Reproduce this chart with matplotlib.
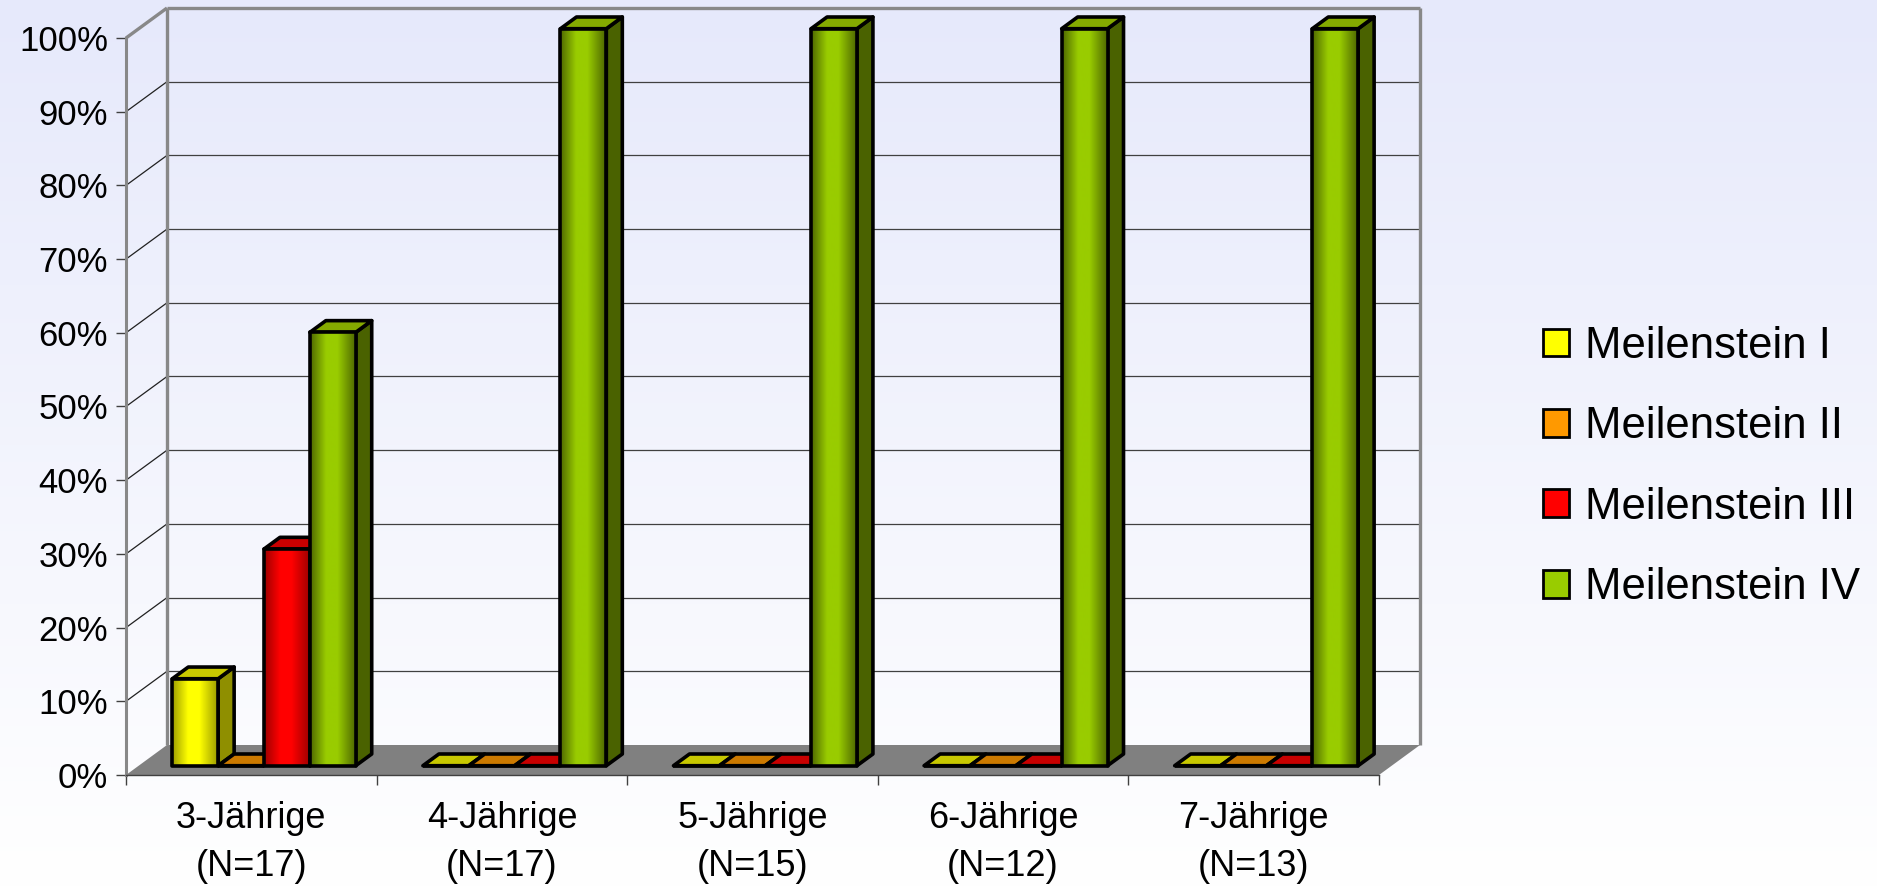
import numpy as np
import matplotlib.pyplot as plt
from matplotlib.patches import Polygon, Patch
from matplotlib.colors import LinearSegmentedColormap

plt.rcParams['font.family'] = ['Liberation Sans', 'DejaVu Sans']

# Anteil je Altersgruppe (%), der den jeweiligen Meilenstein erreicht
groups = ['3-Jährige\n(N=17)', '4-Jährige\n(N=17)', '5-Jährige\n(N=15)',
          '6-Jährige\n(N=12)', '7-Jährige\n(N=13)']
labels = ['Meilenstein I', 'Meilenstein II', 'Meilenstein III', 'Meilenstein IV']
ms_1 = [11.8, 0, 0, 0, 0]
ms_2 = [0, 0, 0, 0, 0]
ms_3 = [29.4, 0, 0, 0, 0]
ms_4 = [58.8, 100, 100, 100, 100]
values = [ms_1, ms_2, ms_3, ms_4]
yticks = list(range(0, 101, 10))

# (hell, dunkel, Seite, Deckel)
colors = [('#ffff00', '#9c9c00', '#8f8f00', '#c8c800'),
          ('#ff9900', '#9c5c00', '#7a4a00', '#cc7a00'),
          ('#ff0000', '#9c0000', '#800000', '#c80000'),
          ('#99cc00', '#4d6600', '#4a6200', '#85aa00')]

W, H = 1877, 889
# Tiefe der Pseudo-3D-Box in Dateneinheiten
DX = 41 / 250.6
DY = 30 / 7.37
T0, T1 = 0.31, 0.70      # Vorder-/Rückseite der Säulen in der Tiefe
bw = 0.183
start = (1 - 4 * bw) / 2
LW = 2.6

fig = plt.figure(figsize=(W / 100, H / 100), dpi=100)

# Hintergrund mit Verlauf
bg = fig.add_axes([0, 0, 1, 1], zorder=-1)
bg_cmap = LinearSegmentedColormap.from_list('bg', ['#ffffff', '#e6e9fb'])
bg.imshow(np.linspace(0, 1, 256)[:, None], extent=(0, 1, 0, 1), origin='lower',
          aspect='auto', cmap=bg_cmap)
bg.axis('off')

ax = fig.add_axes([126 / W, 114 / H, 1294 / W, 767 / H])
ax.patch.set_visible(False)

# Boden
ax.add_patch(Polygon([(0, 0), (5, 0), (5 + DX, DY), (DX, DY)], fc='#808080',
                     ec='none', zorder=1, clip_on=False))

# Gitterlinien auf Seiten- und Rückwand
for v in yticks[1:-1]:
    ax.plot([0, DX], [v, v + DY], color='#202020', lw=0.9, zorder=2, clip_on=False)
    ax.plot([DX, 5 + DX], [v + DY, v + DY], color='#404040', lw=0.9, zorder=2, clip_on=False)

# Kanten der Wände
wall = dict(color='#888888', lw=2.4, zorder=3, clip_on=False, solid_capstyle='butt')
ax.plot([0, DX], [100, 100 + DY], **wall)
ax.plot([DX, DX], [DY, 100 + DY], **wall)
ax.plot([DX, 5 + DX], [100 + DY, 100 + DY], **wall)
ax.plot([5 + DX, 5 + DX], [DY, 100 + DY], **wall)


def draw_bar(x0, h, col, z):
    bright, dark, side, top = col
    ox, oy = T0 * DX, T0 * DY
    bx, by = (T1 - T0) * DX, (T1 - T0) * DY
    xl, xr = x0 + ox, x0 + bw + ox
    yb, yt = oy, oy + h
    ax.add_patch(Polygon([(xr, yb), (xr + bx, yb + by), (xr + bx, yt + by), (xr, yt)],
                         fc=side, ec='k', lw=LW, zorder=z, joinstyle='round'))
    ax.add_patch(Polygon([(xl, yt), (xr, yt), (xr + bx, yt + by), (xl + bx, yt + by)],
                         fc=top, ec='k', lw=LW, zorder=z, joinstyle='round'))
    if h > 0:
        cmap = LinearSegmentedColormap.from_list(
            'bar', [(0, dark), (0.35, bright), (0.6, bright), (1, dark)])
        ax.imshow(np.linspace(0, 1, 256)[None, :], extent=(xl, xr, yb, yt),
                  cmap=cmap, aspect='auto', zorder=z + 0.1, interpolation='bilinear')
    ax.bar(xl, h, bw, bottom=yb, align='edge', fc='none', ec='k', lw=LW,
           zorder=z + 0.2, joinstyle='round')


for i in range(len(groups)):
    for j, vals in enumerate(values):
        draw_bar(i + start + j * bw, vals[i], colors[j], 10 + i * 10 + j * 2)

ax.set_xlim(0, 5 + DX)
ax.set_ylim(0, 100 + DY)

for s in ['top', 'right']:
    ax.spines[s].set_visible(False)
ax.spines['left'].set_bounds(0, 100)
ax.spines['left'].set_color('#888888')
ax.spines['left'].set_linewidth(2.2)
ax.spines['bottom'].set_bounds(0, 5)
ax.spines['bottom'].set_color('#404040')
ax.spines['bottom'].set_linewidth(1)

ax.set_yticks(yticks)
ax.set_yticklabels([f'{v}%' for v in yticks])
ax.tick_params(axis='y', length=7, width=1, color='#404040', pad=6, labelsize=25)

ax.set_xticks(range(6))
ax.set_xticklabels([])
ax.set_xticks(np.arange(5) + 0.5, minor=True)
ax.set_xticklabels(groups, minor=True)
ax.tick_params(axis='x', which='major', length=7, width=1, color='#404040')
ax.tick_params(axis='x', which='minor', length=0, pad=19, labelsize=26)
for t in ax.get_xticklabels(minor=True):
    t.set_linespacing(1.45)

handles = [Patch(fc=c[0], ec='k', lw=2) for c in colors]
fig.legend(handles, labels, loc='center left', bbox_to_anchor=(1543 / W, 1 - 467 / H),
           frameon=False, fontsize=31.5, handlelength=0.6, handleheight=0.6,
           handletextpad=0.35, labelspacing=0.9, borderpad=0, borderaxespad=0)

fig.savefig('out.png', dpi=100)
